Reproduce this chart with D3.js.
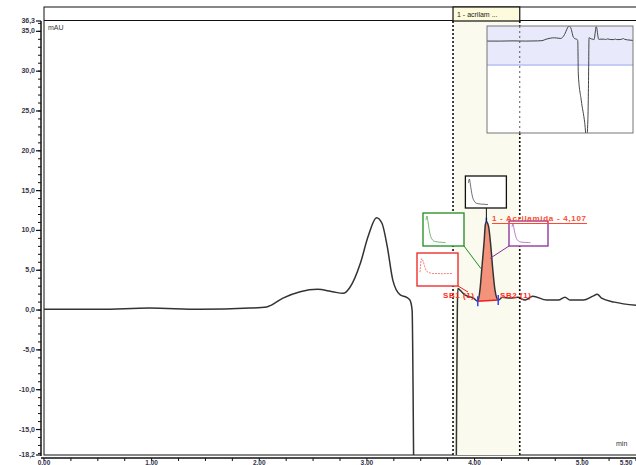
<!DOCTYPE html>
<html>
<head>
<meta charset="utf-8">
<script src="https://cdn.jsdelivr.net/npm/d3@7"></script>
<style>
  body { margin: 0; background: #fff; }
  svg { display: block; font-family: "Liberation Sans", Arial, sans-serif; }
</style>
</head>
<body>
<div id="chart"></div>
<script>
// chromatogram trace (time in min, signal in mAU)
const timeMin = [0, 0.52, 0.98, 1.45, 1.91, 2.07, 2.22, 2.38, 2.54, 2.68, 2.78, 2.84, 2.94, 3.01, 3.09, 3.14, 3.19, 3.24, 3.31, 3.37, 3.40, 3.42,
  3.44, 3.55, 3.68, 3.75, 3.80, 3.83, 3.84, 3.845, 3.865, 3.91, 3.99, 4.03, 4.05, 4.07, 4.09, 4.10, 4.11, 4.13, 4.15, 4.17, 4.19, 4.22,
  4.26, 4.33, 4.40, 4.47, 4.54, 4.67, 4.78, 4.84, 4.89, 5.01, 5.10, 5.14, 5.18, 5.30, 5.50];
const signalMAU = [0.1, 0.1, 0.25, 0.1, 0.25, 0.4, 1.5, 2.3, 2.6, 2.3, 2.1, 2.8, 5.9, 9.2, 11.6, 10.9, 7.9, 3.8, 1.9, 1.6, 1.25, 0,
  -25, -45, -62, -75, -60, -20, 0, 2.7, 2.5, 1.9, 1.5, 1.1, 2.5, 5.6, 8.8, 10.7, 11.1, 10.5, 8.2, 5.0, 2.5, 1.25,
  1.6, 1.5, 1.6, 1.25, 1.75, 1.25, 1.25, 1.6, 1.25, 1.25, 1.75, 2.0, 1.5, 1.0, 0.6];

// integrated peak
const peakLabel = "1 - Acrilamida - 4,107";
const peakApex = 4.11;
const peakStart = 4.03;
const peakEnd = 4.22;
const sbLabels = ["SB1 (1)", "SB2 (1)"];

// highlighted window
const windowStart = 3.80;
const windowEnd = 4.42;
const windowTitle = "1 - acrilam ...";

// axes
const yMin = -18.2, yMax = 36.3;
const yMajorTicks = [-15, -10, -5, 0, 5, 10, 15, 20, 25, 30, 35];
const xMajorTicks = [0, 1, 2, 3, 4, 5, 5.5];

// spectra thumbnails (relative absorbance vs. wavelength index)
const specIndex = [0, 1, 2, 3, 4, 5, 6, 7, 8, 10, 12, 14, 16, 18, 20];
const specApex = [0.85, 1.0, 0.8, 0.55, 0.35, 0.22, 0.15, 0.1, 0.07, 0.05, 0.04, 0.03, 0.03, 0.02, 0.02];
const specBase = [0.4, 0.9, 0.8, 0.6, 0.45, 0.4, 0.38, 0.36, 0.35, 0.35, 0.35, 0.34, 0.35, 0.35, 0.35];

const width = 636, height = 465;
const pL = 44, pR = 636, pT = 21, pB = 455;

const svg = d3.select("#chart").append("svg")
  .attr("width", width).attr("height", height);

const x = d3.scaleLinear().domain([0, 5.5]).range([pL, pR]);
const y = d3.scaleLinear().domain([yMin, yMax]).range([pB, pT]);

const trace = timeMin.map((t, i) => ({ t: t, v: signalMAU[i] }));

const defs = svg.append("defs");
defs.append("clipPath").attr("id", "plotClip")
  .append("rect").attr("x", pL).attr("y", pT).attr("width", pR - pL).attr("height", pB - pT);

// outer frame + header strip
svg.append("rect").attr("x", pL).attr("y", 7).attr("width", width).attr("height", pB - 7)
  .attr("fill", "none").attr("stroke", "#111").attr("stroke-width", 1);
svg.append("line").attr("x1", pL).attr("x2", width).attr("y1", pT - 0.5).attr("y2", pT - 0.5)
  .attr("stroke", "#111");

// highlighted window
svg.append("rect")
  .attr("x", x(windowStart)).attr("y", pT)
  .attr("width", x(windowEnd) - x(windowStart)).attr("height", pB - pT)
  .attr("fill", "#fbfaee");

svg.append("rect")
  .attr("x", x(windowStart)).attr("y", 7)
  .attr("width", x(windowEnd) - x(windowStart)).attr("height", pT - 7)
  .attr("fill", "#fdfbdc").attr("stroke", "#111").attr("stroke-width", 1.2);
svg.append("text")
  .attr("x", x(windowStart) + 4).attr("y", 16.5)
  .style("font-size", "7px").attr("fill", "#222")
  .text(windowTitle);

// y axis
const yAxisX = 41;
svg.append("line").attr("x1", yAxisX).attr("x2", yAxisX).attr("y1", pT).attr("y2", pB + 1)
  .attr("stroke", "#111").attr("stroke-width", 1.5);
svg.append("g").selectAll("line")
  .data(d3.range(-18, 37, 1))
  .join("line")
  .attr("x1", yAxisX - 3).attr("x2", yAxisX)
  .attr("y1", d => y(d)).attr("y2", d => y(d))
  .attr("stroke", "#111").attr("stroke-width", 1);
const yLabelVals = [yMin].concat(yMajorTicks, [yMax]);
svg.append("g").selectAll("line")
  .data(yLabelVals)
  .join("line")
  .attr("x1", yAxisX - 5).attr("x2", yAxisX)
  .attr("y1", d => y(d)).attr("y2", d => y(d))
  .attr("stroke", "#111").attr("stroke-width", 1.2);
svg.append("g").selectAll("text")
  .data(yLabelVals)
  .join("text")
  .attr("x", yAxisX - 6).attr("y", d => y(d) + 2)
  .attr("text-anchor", "end")
  .style("font-size", "7px").style("font-weight", "bold")
  .attr("fill", "#33334a")
  .text(d => d3.format(".1f")(d).replace(".", ",").replace("−", "-"));

// x axis
const xAxisY = 458;
svg.append("line").attr("x1", yAxisX).attr("x2", width).attr("y1", xAxisY).attr("y2", xAxisY)
  .attr("stroke", "#111").attr("stroke-width", 1.5);
svg.append("g").selectAll("line")
  .data(d3.range(0, 5.51, 0.25))
  .join("line")
  .attr("x1", d => x(d)).attr("x2", d => x(d))
  .attr("y1", xAxisY).attr("y2", xAxisY + 3)
  .attr("stroke", "#111");
svg.append("g").selectAll("text")
  .data(xMajorTicks)
  .join("text")
  .attr("x", d => Math.min(x(d), 626)).attr("y", 464.5)
  .attr("text-anchor", "middle")
  .style("font-size", "6.5px").style("font-weight", "bold")
  .attr("fill", "#33334a")
  .text(d => d3.format(".2f")(d).replace(".", ","));

svg.append("text").attr("x", pL + 4).attr("y", 30)
  .style("font-size", "7px").attr("fill", "#333").text("mAU");
svg.append("text").attr("x", 616).attr("y", 446)
  .style("font-size", "7px").attr("fill", "#333").text("min");

// integrated peak area
const plot = svg.append("g").attr("clip-path", "url(#plotClip)");
const peakPts = trace.filter(d => d.t >= peakStart && d.t <= peakEnd);
const baseStart = peakPts[0], baseEnd = peakPts[peakPts.length - 1];
const baseY = t => baseStart.v + (baseEnd.v - baseStart.v) * (t - baseStart.t) / (baseEnd.t - baseStart.t);

plot.append("path")
  .datum(peakPts)
  .attr("fill", "#f4937c")
  .attr("d", d3.area().x(d => x(d.t)).y0(d => y(baseY(d.t))).y1(d => y(d.v)).curve(d3.curveMonotoneX));

// trace
plot.append("path")
  .datum(trace)
  .attr("fill", "none")
  .attr("stroke", "#333")
  .attr("stroke-width", 1.5)
  .attr("d", d3.line().x(d => x(d.t)).y(d => y(d.v)).curve(d3.curveMonotoneX));

// peak baseline and markers
svg.append("line")
  .attr("x1", x(baseStart.t)).attr("x2", x(baseEnd.t))
  .attr("y1", y(baseStart.v)).attr("y2", y(baseEnd.v))
  .attr("stroke", "#ee2020").attr("stroke-width", 1.5);
svg.append("g").selectAll("line")
  .data([baseStart, baseEnd])
  .join("line")
  .attr("x1", d => x(d.t)).attr("x2", d => x(d.t))
  .attr("y1", d => y(d.v) - 5).attr("y2", d => y(d.v) + 5)
  .attr("stroke", "#2a44ff").attr("stroke-width", 1.5);
const apex = trace.find(d => d.t === peakApex);
svg.append("line")
  .attr("x1", x(apex.t)).attr("x2", x(apex.t))
  .attr("y1", y(apex.v) - 4).attr("y2", y(apex.v) + 1)
  .attr("stroke", "#2a44ff").attr("stroke-width", 1.5);

// vertical dotted window lines
svg.append("g").selectAll("line")
  .data([windowStart, windowEnd])
  .join("line")
  .attr("x1", d => x(d)).attr("x2", d => x(d))
  .attr("y1", pT).attr("y2", pB)
  .attr("stroke", "#111").attr("stroke-width", 1.6)
  .attr("stroke-dasharray", "2,2");

// spectrum thumbnails
function linkX(bx, bw, ax){
  if(ax > bx + bw) return bx + bw;
  if(ax < bx) return bx;
  return ax;
}
function thumb(bx, by, bw, bh, color, values, dashed, ax, ay){
  const g = svg.append("g");
  g.append("line").attr("x1", ax).attr("y1", ay).attr("x2", linkX(bx, bw, ax)).attr("y2", by + bh)
    .attr("stroke", color).attr("stroke-width", 1);
  g.append("rect").attr("x", bx).attr("y", by).attr("width", bw).attr("height", bh)
    .attr("fill", "#fff").attr("stroke", color).attr("stroke-width", 1.3);
  const sx = d3.scaleLinear().domain([0, 20]).range([bx + 3, bx + bw * (dashed ? 0.85 : 0.55)]);
  const sy = d3.scaleLinear().domain([0, 1]).range([by + bh - 3, by + 3]);
  g.append("path")
    .datum(values)
    .attr("fill", "none").attr("stroke", color).attr("stroke-width", 0.8)
    .attr("opacity", 0.75)
    .attr("stroke-dasharray", dashed ? "2,1" : null)
    .attr("d", d3.line().x((d, i) => sx(specIndex[i])).y(d => sy(d)).curve(d3.curveMonotoneX));
}

const ax = x(apex.t);
thumb(ax - 21, 176, 41, 32, "#111", specApex, false, ax, y(apex.v));
thumb(423, 213, 41, 33, "#1e8c1e", specApex, false, x(4.06), y(5.2));
thumb(509, 221, 39, 25, "#8a2a9a", specApex, false, x(4.145), y(6.5));
thumb(417, 253, 41, 33, "#ee2020", specBase, true, 468, 292);

// peak label
svg.append("text")
  .attr("x", 492).attr("y", 220.5)
  .style("font-size", "8px").style("font-weight", "bold")
  .attr("fill", "#ff4a30")
  .attr("textLength", 94).attr("lengthAdjust", "spacing")
  .text(peakLabel);
svg.append("line").attr("x1", 492).attr("x2", 587).attr("y1", 223.5).attr("y2", 223.5)
  .attr("stroke", "#ff4a30").attr("stroke-width", 1);

svg.append("g").selectAll("text")
  .data(sbLabels)
  .join("text")
  .attr("x", (d, i) => i === 0 ? 443 : 500)
  .attr("y", 298)
  .style("font-size", "8px").style("font-weight", "bold")
  .attr("fill", "#ff2a20")
  .attr("textLength", 31).attr("lengthAdjust", "spacing")
  .text(d => d);

// overview inset
const inL = 487, inR = 633, inT = 26, inB = 133;
const ix = d3.scaleLinear().domain([0, 5.5]).range([inL, inR]);
const iy = d3.scaleLinear().domain([-70, 11.6]).range([inB, inT]);
defs.append("clipPath").attr("id", "insetClip")
  .append("rect").attr("x", inL).attr("y", inT).attr("width", inR - inL).attr("height", inB - inT);
svg.append("rect").attr("x", inL).attr("y", inT).attr("width", inR - inL).attr("height", inB - inT)
  .attr("fill", "#fff");
svg.append("rect").attr("x", inL).attr("y", inT).attr("width", inR - inL)
  .attr("height", Math.min(inB, iy(yMin)) - inT)
  .attr("fill", "#e8e9fb");
svg.append("line").attr("x1", inL).attr("x2", inR).attr("y1", iy(yMin)).attr("y2", iy(yMin))
  .attr("stroke", "#9aa4f2").attr("stroke-width", 1);
svg.append("g").attr("clip-path", "url(#insetClip)")
  .append("path")
  .datum(trace)
  .attr("fill", "none").attr("stroke", "#444").attr("stroke-width", 1)
  .attr("d", d3.line().x(d => ix(d.t)).y(d => iy(d.v)).curve(d3.curveMonotoneX));
svg.append("rect").attr("x", inL).attr("y", inT).attr("width", inR - inL).attr("height", inB - inT)
  .attr("fill", "none").attr("stroke", "#777").attr("stroke-width", 1);
svg.append("line")
  .attr("x1", x(windowEnd)).attr("x2", x(windowEnd)).attr("y1", inT).attr("y2", inB)
  .attr("stroke", "#555").attr("stroke-width", 1).attr("stroke-dasharray", "2,3");
</script>
</body>
</html>
